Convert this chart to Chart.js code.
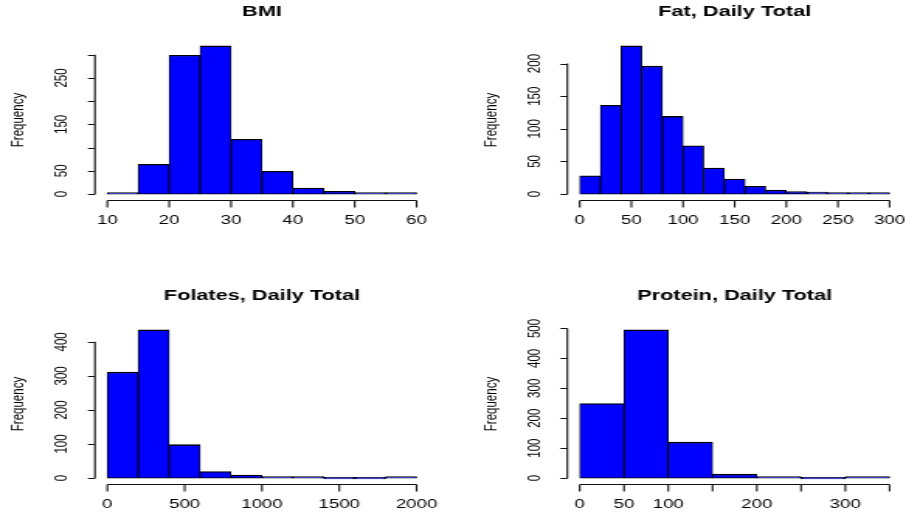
<!DOCTYPE html>
<html>
<head>
<meta charset="utf-8">
<script src="https://cdn.jsdelivr.net/npm/chart.js@4.4.0/dist/chart.umd.min.js"></script>
<style>
body { margin: 0; background: #fff; }
#wrap { position: relative; width: 906px; height: 514px; overflow: hidden; }
/* the reference is stretched sideways, so each chart is drawn narrow and widened */
.panel { position: absolute; width: 292px; height: 257px; transform-origin: 0 0; transform: scaleX(1.5514); }
</style>
</head>
<body>
<div id="wrap">
  <div class="panel" style="left:0;top:0"><canvas id="bmiChart" width="292" height="257"></canvas></div>
  <div class="panel" style="left:453px;top:0"><canvas id="fatChart" width="292" height="257"></canvas></div>
  <div class="panel" style="left:0;top:257px"><canvas id="folChart" width="292" height="257"></canvas></div>
  <div class="panel" style="left:453px;top:257px"><canvas id="protChart" width="292" height="257"></canvas></div>
</div>
<script>
// BMI
var bmiBreaks = [10, 15, 20, 25, 30, 35, 40, 45, 50, 55, 60];
var bmiCounts = [2, 64, 299, 319, 118, 49, 13, 6, 1, 2];
var bmiXTicks = [10, 20, 30, 40, 50, 60];
var bmiYTicks = [0, 50, 100, 150, 200, 250, 300];
var bmiYLabels = [0, 50, 150, 250];

// Fat, Daily Total
var fatBreaks = [0, 20, 40, 60, 80, 100, 120, 140, 160, 180, 200, 220, 240, 260, 280, 300];
var fatCounts = [28, 136, 227, 196, 119, 74, 40, 23, 12, 6, 4, 3, 1, 1, 1];
var fatXTicks = [0, 50, 100, 150, 200, 250, 300];
var fatYTicks = [0, 50, 100, 150, 200];

// Folates, Daily Total
var folBreaks = [0, 200, 400, 600, 800, 1000, 1200, 1400, 1600, 1800, 2000];
var folCounts = [311, 435, 98, 19, 9, 3, 1, 0, 0, 1];
var folXTicks = [0, 500, 1000, 1500, 2000];
var folYTicks = [0, 100, 200, 300, 400];

// Protein, Daily Total
var protBreaks = [0, 50, 100, 150, 200, 250, 300, 350];
var protCounts = [249, 495, 120, 13, 2, 0, 1];
var protXTicks = [0, 50, 100, 150, 200, 250, 300, 350];
var protXLabels = [0, 50, 100, 200, 300];
var protYTicks = [0, 100, 200, 300, 400, 500];

var fontFam = '"Liberation Sans", Arial, sans-serif';

// base-R style axes: line from first to last tick, ticks outside, rotated y labels
var rAxes = {
    id: 'rAxes',
    afterDraw: function (chart, args, o) {
        var ctx = chart.ctx, a = chart.chartArea;
        var xs = chart.scales.x, ys = chart.scales.y;
        ctx.save();
        ctx.fillStyle = '#000';
        ctx.strokeStyle = '#111';
        ctx.lineWidth = 1.1;
        ctx.textAlign = 'center';
        ctx.textBaseline = 'middle';

        ctx.font = 'bold 14px ' + fontFam;
        ctx.fillText(o.title, (a.left + a.right) / 2, a.top - 28);

        // x axis
        var xt = o.xTicks;
        var yb = Math.round(a.bottom) + 0.5;
        ctx.beginPath();
        ctx.moveTo(xs.getPixelForValue(xt[0]), yb);
        ctx.lineTo(xs.getPixelForValue(xt[xt.length - 1]), yb);
        xt.forEach(function (v) {
            var px = xs.getPixelForValue(v);
            ctx.moveTo(px, yb);
            ctx.lineTo(px, yb + 7);
        });
        ctx.stroke();
        ctx.font = '12px ' + fontFam;
        o.xLabels.forEach(function (v) {
            ctx.fillText(String(v), xs.getPixelForValue(v), a.bottom + 21);
        });

        // y axis
        var yt = o.yTicks;
        ctx.beginPath();
        ctx.moveTo(a.left, ys.getPixelForValue(yt[0]) + 0.5);
        ctx.lineTo(a.left, ys.getPixelForValue(yt[yt.length - 1]));
        yt.forEach(function (v) {
            var py = Math.round(ys.getPixelForValue(v)) + 0.5;
            ctx.moveTo(a.left, py);
            ctx.lineTo(a.left - 4.5, py);
        });
        ctx.stroke();
        ctx.font = '11.5px ' + fontFam;
        o.yLabels.forEach(function (v) {
            ctx.save();
            ctx.translate(a.left - 21.3, ys.getPixelForValue(v));
            ctx.rotate(-Math.PI / 2);
            ctx.fillText(String(v), 0, 0);
            ctx.restore();
        });

        ctx.save();
        ctx.translate(a.left - 49, (a.top + a.bottom) / 2);
        ctx.rotate(-Math.PI / 2);
        ctx.fillText('Frequency', 0, 0);
        ctx.restore();

        ctx.restore();
    }
};

function makeHist(id, title, breaks, counts, xTicks, xLabels, yTicks, yLabels, pad) {
    var lo = breaks[0], hi = breaks[breaks.length - 1];
    var xr = hi - lo;
    var ymax = Math.max.apply(null, counts);
    var pts = counts.map(function (c, i) {
        return { x: (breaks[i] + breaks[i + 1]) / 2, y: c };
    });
    return new Chart(document.getElementById(id), {
        type: 'bar',
        data: {
            datasets: [{
                data: pts,
                backgroundColor: '#0000ff',
                borderColor: '#000',
                borderWidth: { left: 0.85, right: 0.85, top: 1.3, bottom: 1 },
                borderSkipped: false,
                barPercentage: 1,
                categoryPercentage: 1,
                minBarLength: 1.6
            }]
        },
        options: {
            responsive: false,
            animation: false,
            devicePixelRatio: 1,
            layout: { padding: pad },
            plugins: {
                legend: { display: false },
                tooltip: { enabled: false },
                rAxes: { title: title, xTicks: xTicks, xLabels: xLabels, yTicks: yTicks, yLabels: yLabels }
            },
            scales: {
                x: {
                    type: 'linear', display: false, offset: false,
                    min: lo - 0.04 * xr, max: hi + 0.04 * xr,
                    afterBuildTicks: function (s) {
                        s.ticks = breaks.map(function (v) { return { value: v }; });
                    }
                },
                y: { type: 'linear', display: false, min: -0.04 * ymax, max: 1.04 * ymax }
            }
        },
        plugins: [rAxes]
    });
}

makeHist('bmiChart', 'BMI', bmiBreaks, bmiCounts, bmiXTicks, bmiXTicks, bmiYTicks, bmiYLabels,
    { left: 61.2, right: 15.5, top: 40, bottom: 57 });
makeHist('fatChart', 'Fat, Daily Total', fatBreaks, fatCounts, fatXTicks, fatXTicks, fatYTicks, fatYTicks,
    { left: 73.7, right: 2.6, top: 40, bottom: 57 });
makeHist('folChart', 'Folates, Daily Total', folBreaks, folCounts, folXTicks, folXTicks, folYTicks, folYTicks,
    { left: 61.2, right: 15.5, top: 67, bottom: 30 });
makeHist('protChart', 'Protein, Daily Total', protBreaks, protCounts, protXTicks, protXLabels, protYTicks, protYTicks,
    { left: 73.7, right: 2.6, top: 67, bottom: 30 });
</script>
</body>
</html>
